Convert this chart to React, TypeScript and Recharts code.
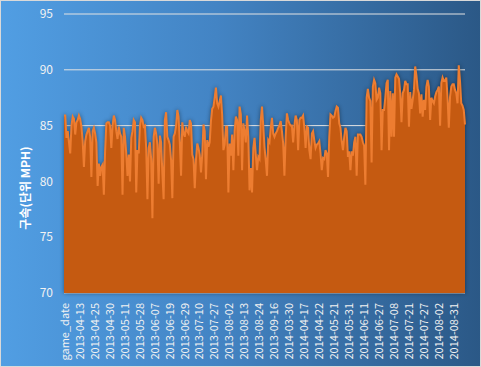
import { Area, AreaChart, CartesianGrid, XAxis, YAxis } from "recharts"

// pitch speed (mph) left to right
const speeds = [
  85.9, 85.9, 83.9, 84.5, 83.5, 82.5, 85.0, 85.8, 85.6, 84.2,
  85.3, 85.5, 85.9, 85.6, 84.9, 83.6, 81.3, 83.6, 84.2, 84.5,
  84.8, 84.0, 80.4, 84.5, 84.8, 84.3, 83.5, 79.6, 81.6, 80.5,
  81.3, 81.5, 78.8, 82.7, 85.2, 85.3, 85.3, 85.0, 83.0, 85.0,
  85.9, 85.5, 84.5, 83.8, 84.9, 84.3, 84.0, 78.8, 84.8, 84.0,
  82.5, 80.5, 82.4, 80.0, 83.9, 84.5, 85.5, 85.3, 79.0, 82.8,
  82.5, 85.0, 85.7, 85.5, 84.9,
  85.0, 83.0, 78.4, 83.0, 83.5, 82.0, 76.7, 84.0, 84.8, 84.3,
  83.3, 79.8, 84.1, 83.5, 80.7, 78.4, 85.5, 86.2, 84.0, 83.7,
  83.3, 81.9, 78.5, 84.0, 84.3, 85.0, 86.4, 85.8, 83.5, 80.5,
  85.3, 84.3, 84.0, 84.9, 84.5, 84.3, 85.5, 85.2, 82.4, 82.0,
  79.4, 82.0, 83.4, 83.0, 82.4, 80.8, 82.4, 85.1, 84.5, 80.2,
  83.7, 83.1, 83.5, 85.4, 86.5, 86.7, 87.5, 88.4, 87.0, 86.7,
  87.2, 87.7, 86.0, 82.8, 83.3,
  84.9, 84.9, 79.0, 83.4, 82.3, 84.2, 81.0, 84.5, 85.8, 85.5,
  82.3, 86.7, 86.0, 81.0, 85.2, 84.5, 83.5, 85.9, 84.0, 79.2,
  81.2, 79.0, 83.0, 83.9, 82.4, 81.0, 82.2, 82.0, 85.5, 86.7,
  85.0, 83.1, 81.9, 80.5, 83.7, 83.5, 84.8, 85.7, 84.3, 84.0,
  84.3, 84.5, 84.8, 85.0, 85.4, 84.5, 83.4, 80.5, 84.0, 86.1,
  85.5, 85.2, 85.0, 85.0, 83.5, 85.0, 85.9, 85.5, 82.8, 85.5,
  85.7, 85.7, 85.9, 84.8, 83.0, 84.9,
  84.8, 82.8, 82.0, 84.3, 84.5, 83.7, 83.0, 83.3, 83.4, 83.6,
  82.5, 81.0, 82.1, 82.0, 82.8, 82.5, 80.4, 84.0, 86.0, 85.9,
  85.7, 85.8, 86.3, 86.7, 86.6, 85.2, 84.8, 83.6, 82.8, 84.0,
  84.8, 84.5, 82.2, 82.7, 81.0, 82.7, 82.3, 83.5, 84.0, 80.5,
  84.2, 84.2, 84.2, 84.0, 83.5, 83.2, 79.7, 87.5, 88.3, 87.5,
  87.2, 81.7, 88.5, 89.1, 88.8, 87.3, 87.5, 88.4, 87.9, 82.8,
  86.4, 86.4, 87.5, 88.8, 89.1,
  82.8, 88.1, 84.0, 87.9, 84.0, 89.3, 89.6, 89.4, 89.2,
  87.9, 85.3, 87.9, 88.2, 89.0, 88.7, 88.7, 84.9, 88.0, 86.5,
  87.3, 88.2, 90.3, 89.5, 88.3, 87.9, 86.1, 87.8, 85.8, 87.3,
  86.4, 88.5, 89.1, 88.5, 85.5, 87.5, 87.2, 87.0, 87.6, 88.0,
  88.2, 88.5, 85.0, 88.8, 89.3, 89.0, 89.0, 89.3, 87.5, 84.8,
  87.6, 88.5, 88.7, 88.7, 88.2, 87.9, 87.0, 90.4, 89.0,
  87.0, 86.8, 86.4, 85.1,
]

const tickLabels = [
  "game_date", "2013-04-13", "2013-04-25", "2013-04-30", "2013-05-11", "2013-05-28",
  "2013-06-07", "2013-06-19", "2013-06-29", "2013-07-10", "2013-07-27", "2013-08-02",
  "2013-08-13", "2013-08-24", "2013-09-16", "2014-03-30", "2014-04-17", "2014-04-22",
  "2014-05-21", "2014-05-31", "2014-06-11", "2014-06-27", "2014-07-08", "2014-07-21",
  "2014-07-27", "2014-08-02", "2014-08-31",
]

const yTicks = [70, 75, 80, 85, 90, 95]

// one date label every 12 points
const POINTS_PER_LABEL = 12

const chartData = speeds.map((speed, idx) => ({ idx, speed }))
const xTicks = tickLabels.map((_, i) => i * POINTS_PER_LABEL)

const FONT = '"Malgun Gothic", "Noto Sans CJK KR", sans-serif'

const DateTick = ({ x, y, payload }: any) => (
  <text
    transform={`translate(${x},${y + 2}) rotate(-90)`}
    textAnchor="end"
    dominantBaseline="central"
    fill="#f2f2f2"
    fontSize={11}
    fontFamily={FONT}
  >
    {tickLabels[Math.round(payload.value / POINTS_PER_LABEL)]}
  </text>
)

const YTitle = () => (
  <text
    transform="translate(24,188) rotate(-90)"
    textAnchor="middle"
    dominantBaseline="central"
    fill="#ffffff"
    fontSize={12}
    fontWeight="bold"
    fontFamily={FONT}
  >
    구속(단위 MPH)
  </text>
)

export default function App() {
  return (
    <div
      style={{
        width: 481,
        height: 367,
        position: "relative",
        background: "linear-gradient(90deg, #519ee3 0%, #4384c4 45%, #2b5886 100%)",
        boxShadow: "inset 0 0 0 1px #d9d9d9",
      }}
    >
      <style>{`body{margin:0} .speed-area{filter:drop-shadow(0px 0px 2px rgba(0,0,0,0.45));}`}</style>
      <AreaChart width={481} height={367} data={chartData} margin={{ top: 14, right: 16, left: 0, bottom: 0 }}>
        <CartesianGrid horizontal vertical={false} stroke="#e3e3e3" strokeWidth={1} />
        <XAxis
          dataKey="idx"
          type="number"
          domain={[0, speeds.length - 1]}
          ticks={xTicks}
          interval={0}
          height={74}
          axisLine={false}
          tickLine={false}
          tick={<DateTick />}
        />
        <YAxis
          domain={[70, 95]}
          ticks={yTicks}
          width={64}
          axisLine={false}
          tickLine={false}
          tickMargin={5}
          tick={{ fill: "#f2f2f2", fontSize: 12, fontFamily: FONT }}
          label={{ content: () => <YTitle /> }}
        />
        <Area
          className="speed-area"
          type="linear"
          dataKey="speed"
          baseValue={70}
          stroke="#ed7d31"
          strokeWidth={2}
          fill="#c55a11"
          fillOpacity={1}
          dot={false}
          activeDot={false}
          isAnimationActive={false}
        />
      </AreaChart>
    </div>
  )
}
